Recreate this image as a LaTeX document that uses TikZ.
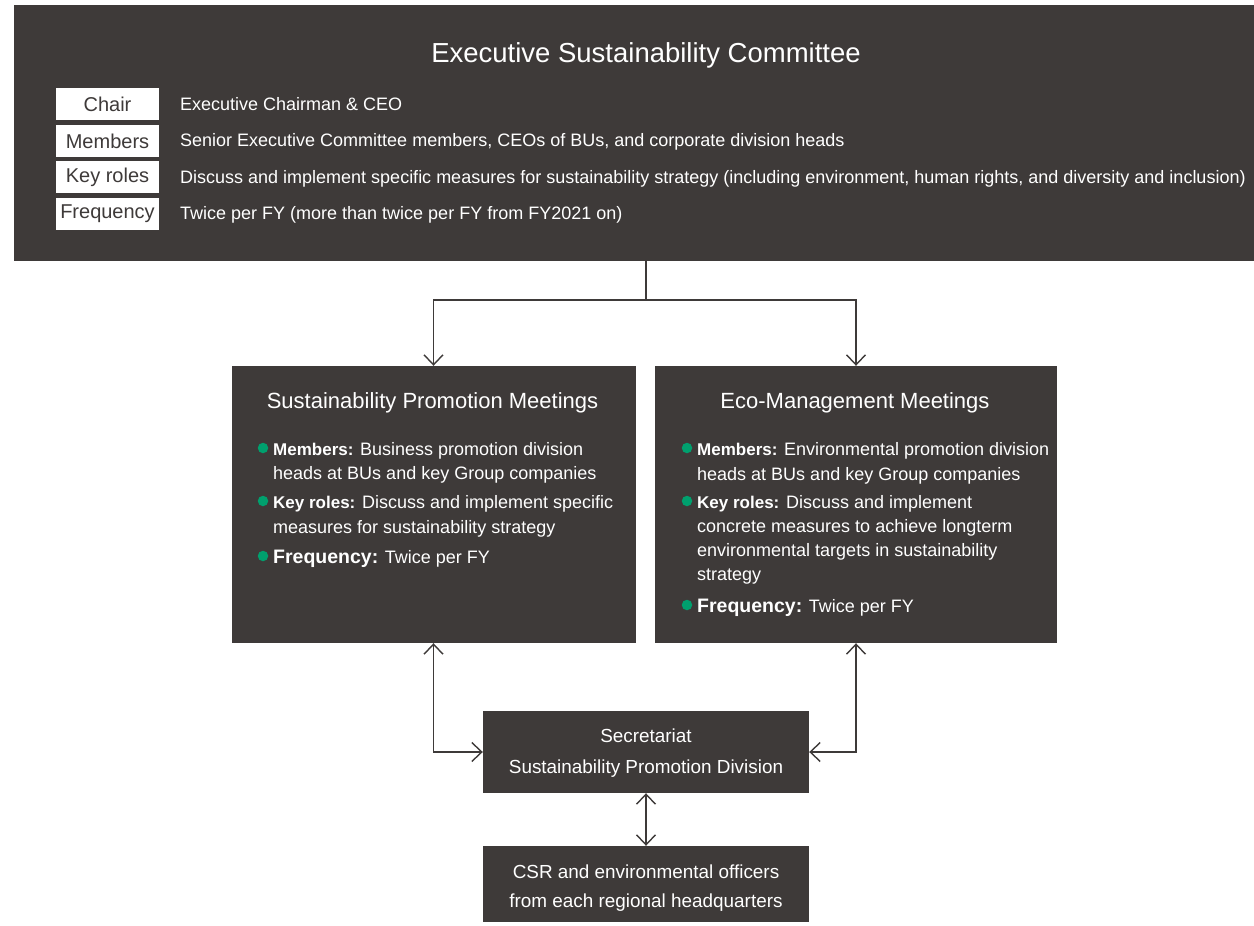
\documentclass[tikz,border=0pt]{standalone}
\usepackage{fontspec}
\setmainfont{Liberation Sans}
\usetikzlibrary{arrows.meta}
\definecolor{boxgray}{HTML}{3E3A39}
\definecolor{dotgreen}{HTML}{00A06E}
\tikzset{
  darkbox/.style={rectangle, fill=boxgray, draw=none, inner sep=0pt},
  labelbox/.style={rectangle, fill=white, draw=none, inner sep=0pt, minimum width=103pt, minimum height=32pt, text=boxgray, font=\fontsize{20}{24}\selectfont},
  bodytext/.style={text=white, anchor=base west, inner sep=0pt, font=\fontsize{18}{22}\selectfont},
  btext/.style={text=white, anchor=base west, inner sep=0pt, font=\fontsize{18}{22}\selectfont},
  ctext/.style={text=white, anchor=base, inner sep=0pt, font=\fontsize{18.9}{22}\selectfont},
  htext/.style={text=white, anchor=base, inner sep=0pt, font=\fontsize{22}{26}\selectfont},
  dot/.style={circle, fill=dotgreen, draw=none, inner sep=0pt, minimum size=10.5pt},
  conn/.style={draw=boxgray, line width=1.4pt, -{Straight Barb[length=10pt,width=19pt]}},
  conn2/.style={draw=boxgray, line width=1.4pt, {Straight Barb[length=10pt,width=19pt]}-{Straight Barb[length=10pt,width=19pt]}},
  plain/.style={draw=boxgray, line width=1.4pt}
}
\newcommand{\lab}[1]{{\fontsize{17}{22}\selectfont\textbf{#1}}}
\newcommand{\flab}[1]{{\fontsize{19.5}{22}\selectfont\textbf{#1}}}
\begin{document}
\begin{tikzpicture}[x=1pt,y=-1pt]
\useasboundingbox (0,0) rectangle (1254,926);
% top box
\node[darkbox, minimum width=1240pt, minimum height=256pt] (top) at (634,133) {};
\node[text=white, inner sep=0pt, anchor=base, font=\fontsize{27.5}{30}\selectfont] (toptitle) at (646,62) {Executive Sustainability Committee};
\node[labelbox] (lchair) at (107.5,104) {Chair};
\node[labelbox] (lmem) at (107.5,141) {Members};
\node[labelbox] (lkey) at (107.5,177) {Key roles};
\node[labelbox] (lfreq) at (107.5,214) {Frequency};
\node[bodytext] (tchair) at (180,110) {Executive Chairman \& CEO};
\node[bodytext] (tmem) at (180,146.5) {Senior Executive Committee members, CEOs of BUs, and corporate division heads};
\node[bodytext] (tkey) at (180,183) {Discuss and implement specific measures for sustainability strategy (including environment, human rights, and diversity and inclusion)};
\node[bodytext] (tfreq) at (180,219.5) {Twice per FY (more than twice per FY from FY2021 on)};
% middle boxes
\node[darkbox, minimum width=404pt, minimum height=277pt] (left) at (433.5,504.5) {};
\node[darkbox, minimum width=402pt, minimum height=277pt] (right) at (856,504.5) {};
\node[htext] (ltitle) at (432.5,408) {Sustainability Promotion Meetings};
\node[htext] (rtitle) at (855,408) {Eco-Management Meetings};
% left bullets
\node[dot] (ld1) at (263,448) {};
\node[btext] (lb1a) at (273,455) {\lab{Members:} Business promotion division};
\node[btext] (lb1b) at (273,479) {heads at BUs and key Group companies};
\node[dot] (ld2) at (263,501) {};
\node[btext] (lb2a) at (273,508) {\lab{Key roles:} Discuss and implement specific};
\node[btext] (lb2b) at (273,533) {measures for sustainability strategy};
\node[dot] (ld3) at (263,556) {};
\node[btext] (lb3) at (273,563) {\flab{Frequency:} Twice per FY};
% right bullets
\node[dot] (rd1) at (687,448) {};
\node[btext] (rb1a) at (697,455) {\lab{Members:} Environmental promotion division};
\node[btext] (rb1b) at (697,480) {heads at BUs and key Group companies};
\node[dot] (rd2) at (687,501) {};
\node[btext] (rb2a) at (697,508) {\lab{Key roles:} Discuss and implement};
\node[btext] (rb2b) at (697,532) {concrete measures to achieve longterm};
\node[btext] (rb2c) at (697,556) {environmental targets in sustainability};
\node[btext] (rb2d) at (697,580) {strategy};
\node[dot] (rd3) at (687,605) {};
\node[btext] (rb3) at (697,612) {\flab{Frequency:} Twice per FY};
% bottom boxes
\node[darkbox, minimum width=326pt, minimum height=82pt] (sec) at (646,752) {};
\node[ctext] (sect1) at (646,742) {Secretariat};
\node[ctext] (sect2) at (646,773) {Sustainability Promotion Division};
\node[darkbox, minimum width=326pt, minimum height=76pt] (csr) at (646,884) {};
\node[ctext] (csrt1) at (646,878) {CSR and environmental officers};
\node[ctext] (csrt2) at (646,907) {from each regional headquarters};
% connectors
\coordinate (j) at (646,300);
\draw[plain] (top.south -| j) -- (j);
\draw[conn] (j) -| (left.north);
\draw[conn] (j) -| (right.north);
\draw[conn2] (left.south) |- (sec.west);
\draw[conn2] (right.south) |- (sec.east);
\draw[conn2] (sec.south) -- (csr.north);
\end{tikzpicture}
\end{document}
